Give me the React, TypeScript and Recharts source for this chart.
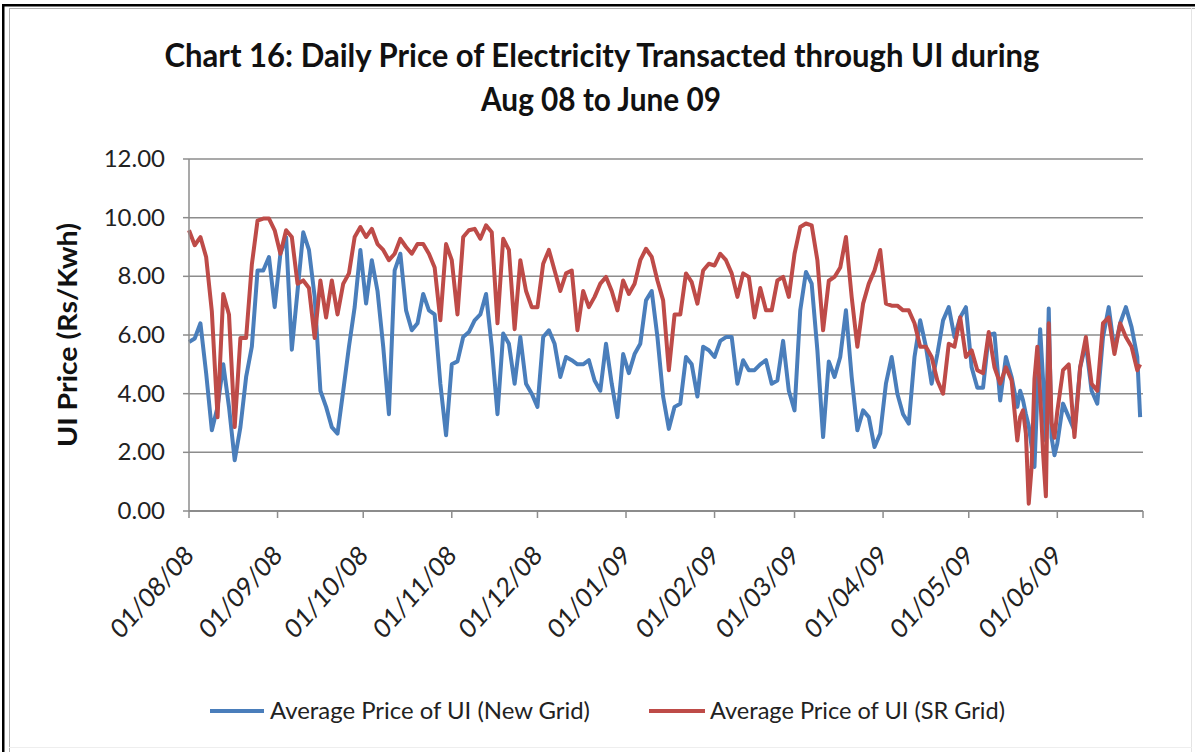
import React from 'react';
import { LineChart, Line, XAxis, YAxis, CartesianGrid } from 'recharts';

// day index counted from 01/08/08
const days = [
  0, 2, 4, 6, 8, 10, 12, 14, 16, 18, 20, 22, 24, 26, 28, 30, 32, 34, 36, 38,
  40, 42, 44, 46, 48, 50, 52, 54, 56, 58, 60, 62, 64, 66, 68, 70, 72, 74, 76, 78,
  80, 82, 84, 86, 88, 90, 92, 94, 96, 98, 100, 102, 104, 106, 108, 110, 112, 114, 116, 118,
  120, 122, 124, 126, 128, 130, 132, 134, 136, 138, 140, 142, 144, 146, 148, 150, 152, 154, 156, 158,
  160, 162, 164, 166, 168, 170, 172, 174, 176, 178, 180, 182, 184, 186, 188, 190, 192, 194, 196, 198,
  200, 202, 204, 206, 208, 210, 212, 214, 216, 218, 220, 222, 224, 226, 228, 230, 232, 234, 236, 238,
  240, 242, 244, 246, 248, 250, 252, 254, 256, 258, 260, 262, 264, 266, 268, 270, 272, 274, 276, 278,
  280, 282, 284, 286, 288, 290, 291, 292, 293, 294, 295, 296, 297, 298, 299, 300, 301, 302, 303, 304,
  306, 308, 310, 312, 314, 316, 318, 320, 322, 324, 326, 328, 330, 332, 333,
];

const newGrid = [
  5.76, 5.88, 6.4, 4.7, 2.75, 3.55, 5.0, 3.55, 1.73, 2.86, 4.57, 5.6, 8.2, 8.2, 8.66, 6.95, 8.77, 9.34, 5.5, 7.5,
  9.5, 8.9, 7.3, 4.1, 3.55, 2.86, 2.64, 4.1, 5.6, 6.95, 8.9, 7.07, 8.55, 7.5, 5.6, 3.3, 8.2, 8.77, 6.84, 6.16,
  6.4, 7.4, 6.84, 6.7, 4.34, 2.58, 5.0, 5.1, 5.93, 6.1, 6.5, 6.7, 7.4, 5.6, 3.3, 6.05, 5.7, 4.34, 5.93, 4.34,
  4.0, 3.55, 5.93, 6.16, 5.7, 4.57, 5.25, 5.14, 5.0, 5.0, 5.14, 4.45, 4.1, 5.7, 4.34, 3.2, 5.35, 4.7, 5.35, 5.7,
  7.18, 7.5, 5.93, 3.9, 2.8, 3.55, 3.66, 5.25, 5.0, 3.9, 5.6, 5.48, 5.25, 5.8, 5.93, 5.93, 4.34, 5.14, 4.8, 4.8,
  5.0, 5.14, 4.34, 4.45, 5.8, 4.1, 3.43, 6.84, 8.15, 7.75, 5.48, 2.52, 5.1, 4.57, 5.25, 6.84, 4.57, 2.75, 3.43, 3.2,
  2.18, 2.64, 4.34, 5.25, 4.0, 3.3, 2.98, 5.25, 6.5, 5.6, 4.34, 5.35, 6.5, 6.95, 5.93, 6.6, 6.95, 4.9, 4.2, 4.2,
  6.0, 6.05, 3.77, 5.25, 4.57, 3.55, 4.1, 3.77, 3.3, 2.9, 2.2, 1.5, 4.0, 6.2, 4.5, 2.4, 6.9, 2.5, 1.9, 2.3,
  3.66, 3.2, 2.75, 4.9, 5.7, 4.1, 3.66, 5.93, 6.95, 5.48, 6.4, 6.95, 6.27, 5.25, 3.2,
];

const srGrid = [
  9.57, 9.06, 9.34, 8.66, 6.8, 3.2, 7.4, 6.7, 2.86, 5.9, 5.9, 8.4, 9.9, 9.97, 9.97, 9.57, 8.77, 9.57, 9.34, 7.75,
  7.86, 7.6, 5.9, 7.86, 6.6, 7.86, 6.7, 7.75, 8.1, 9.34, 9.68, 9.34, 9.62, 9.1, 8.9, 8.55, 8.77, 9.28, 9.0, 8.77,
  9.1, 9.1, 8.77, 8.3, 6.5, 9.1, 8.55, 6.7, 9.34, 9.57, 9.62, 9.28, 9.74, 9.5, 6.4, 9.28, 8.9, 6.2, 8.55, 7.5,
  6.95, 6.95, 8.43, 8.9, 8.2, 7.5, 8.1, 8.2, 6.16, 7.5, 6.95, 7.3, 7.75, 7.98, 7.5, 6.84, 7.86, 7.4, 7.75, 8.55,
  8.94, 8.66, 7.86, 7.18, 4.8, 6.7, 6.7, 8.1, 7.8, 7.07, 8.2, 8.43, 8.37, 8.77, 8.55, 8.1, 7.3, 8.1, 7.98, 6.6,
  7.6, 6.84, 6.84, 7.86, 7.98, 7.3, 8.77, 9.68, 9.8, 9.74, 8.55, 6.16, 7.85, 7.98, 8.3, 9.34, 7.3, 5.6, 7.07, 7.75,
  8.2, 8.9, 7.07, 7.0, 7.0, 6.84, 6.84, 6.4, 5.6, 5.6, 5.25, 4.45, 4.0, 5.7, 5.6, 6.6, 5.25, 5.48, 4.8, 4.7,
  6.1, 4.9, 4.34, 4.9, 4.45, 2.4, 3.2, 3.43, 2.64, 0.25, 1.5, 4.5, 5.6, 4.0, 2.0, 0.5, 6.4, 3.0, 2.5, 3.4,
  4.8, 5.0, 2.52, 4.9, 5.93, 4.34, 4.1, 6.4, 6.6, 5.35, 6.4, 5.93, 5.6, 4.8, 5.0,
];

const seriesNames = ['Average Price of UI (New Grid)', 'Average Price of UI (SR Grid)'];
const seriesColors = ['#4A7EBB', '#BE4B48'];

const monthTicks = [0, 31, 61, 92, 122, 153, 184, 212, 243, 273, 304, 334];
const monthLabels = [
  '01/08/08', '01/09/08', '01/10/08', '01/11/08', '01/12/08', '01/01/09',
  '01/02/09', '01/03/09', '01/04/09', '01/05/09', '01/06/09', '',
];
const yTicks = [0, 2, 4, 6, 8, 10, 12];

const titleLines = ['Chart 16: Daily Price of Electricity Transacted through UI during', 'Aug 08 to June 09'];
const yAxisTitle = 'UI Price (Rs/Kwh)';

const rows = days.map((d, i) => ({ day: d, newGrid: newGrid[i], srGrid: srGrid[i] }));

const FONT = 'Lato, "Open Sans", sans-serif';

const XTick = (props: any) => {
  const { x, y, payload } = props;
  const idx = monthTicks.indexOf(payload.value);
  const label = idx >= 0 ? monthLabels[idx] : '';
  if (!label) return <g />;
  const px = x + 6;
  const py = y + 39;
  return (
    <text
      x={0}
      y={0}
      textAnchor="end"
      transform={`translate(${px}, ${py}) scale(1, 1.12) rotate(-45)`}
      fontSize={24}
      fontFamily={FONT}
      fill="#222"
    >
      {label}
    </text>
  );
};

const YTick = (props: any) => {
  const { x, y, payload } = props;
  return (
    <text x={x} y={y + 8} textAnchor="end" fontSize={24} fontFamily={FONT} fill="#222">
      {Number(payload.value).toFixed(2)}
    </text>
  );
};

export default function App() {
  return (
    <div style={{ position: 'fixed', left: 0, top: 0, width: 1195, height: 752, background: '#fff' }}>
      <LineChart
        width={1195}
        height={752}
        data={rows}
        margin={{ top: 159, right: 52, left: 0, bottom: 0 }}
      >
        <CartesianGrid vertical={false} stroke="#8c8c8c" strokeWidth={1.5} />
        <XAxis
          dataKey="day"
          type="number"
          domain={[0, 334]}
          ticks={monthTicks}
          interval={0}
          height={241}
          tick={<XTick />}
          tickSize={7}
          tickMargin={0}
          axisLine={{ stroke: '#8c8c8c', strokeWidth: 2 }}
          tickLine={{ stroke: '#8c8c8c', strokeWidth: 1.5 }}
        />
        <YAxis
          domain={[0, 12]}
          ticks={yTicks}
          width={189}
          tick={<YTick />}
          tickSize={6}
          tickMargin={18}
          axisLine={{ stroke: '#8c8c8c', strokeWidth: 1.5 }}
          tickLine={{ stroke: '#8c8c8c', strokeWidth: 1.5 }}
        />
        <Line
          type="linear"
          dataKey="newGrid"
          name={seriesNames[0]}
          stroke={seriesColors[0]}
          strokeWidth={4}
          strokeLinejoin="round"
          dot={false}
          isAnimationActive={false}
        />
        <Line
          type="linear"
          dataKey="srGrid"
          name={seriesNames[1]}
          stroke={seriesColors[1]}
          strokeWidth={4}
          strokeLinejoin="round"
          dot={false}
          isAnimationActive={false}
        />
      </LineChart>
      <svg
        width={1195}
        height={752}
        style={{ position: 'absolute', left: 0, top: 0, pointerEvents: 'none' }}
      >
        {/* frame */}
        <rect x={3} y={4} width={1192} height={2.5} fill="#000" />
        <rect x={2} y={4} width={2.5} height={748} fill="#000" />
        <line x1={9} y1={8.5} x2={1195} y2={8.5} stroke="#b0b0b0" strokeWidth={1} />
        <line x1={9.5} y1={8} x2={9.5} y2={752} stroke="#b0b0b0" strokeWidth={1} />
        <line x1={1191.5} y1={8} x2={1191.5} y2={752} stroke="#e4e4e4" strokeWidth={1} />
        <line x1={9} y1={747.5} x2={1192} y2={747.5} stroke="#eeeeee" strokeWidth={1} />
        {/* title */}
        <text
          x={602}
          y={67}
          textAnchor="middle"
          fontSize={33}
          fontWeight={700}
          fontFamily={FONT}
          fill="#111"
          textLength={875}
          lengthAdjust="spacingAndGlyphs"
        >
          {titleLines[0]}
        </text>
        <text
          x={601}
          y={111}
          textAnchor="middle"
          fontSize={33}
          fontWeight={700}
          fontFamily={FONT}
          fill="#111"
          textLength={240}
          lengthAdjust="spacingAndGlyphs"
        >
          {titleLines[1]}
        </text>
        {/* y axis title */}
        <text
          x={77}
          y={335}
          textAnchor="middle"
          transform="rotate(-90, 77, 335)"
          fontSize={26}
          fontWeight={700}
          fontFamily={FONT}
          fill="#111"
          textLength={224}
          lengthAdjust="spacingAndGlyphs"
        >
          {yAxisTitle}
        </text>
        {/* legend */}
        <line x1={210} y1={711} x2={264} y2={711} stroke={seriesColors[0]} strokeWidth={4} />
        <text x={270} y={719} fontSize={24} fontFamily={FONT} fill="#222" textLength={320} lengthAdjust="spacingAndGlyphs">
          {seriesNames[0]}
        </text>
        <line x1={649} y1={711} x2={705} y2={711} stroke={seriesColors[1]} strokeWidth={4} />
        <text x={710} y={719} fontSize={24} fontFamily={FONT} fill="#222" textLength={295} lengthAdjust="spacingAndGlyphs">
          {seriesNames[1]}
        </text>
      </svg>
    </div>
  );
}
